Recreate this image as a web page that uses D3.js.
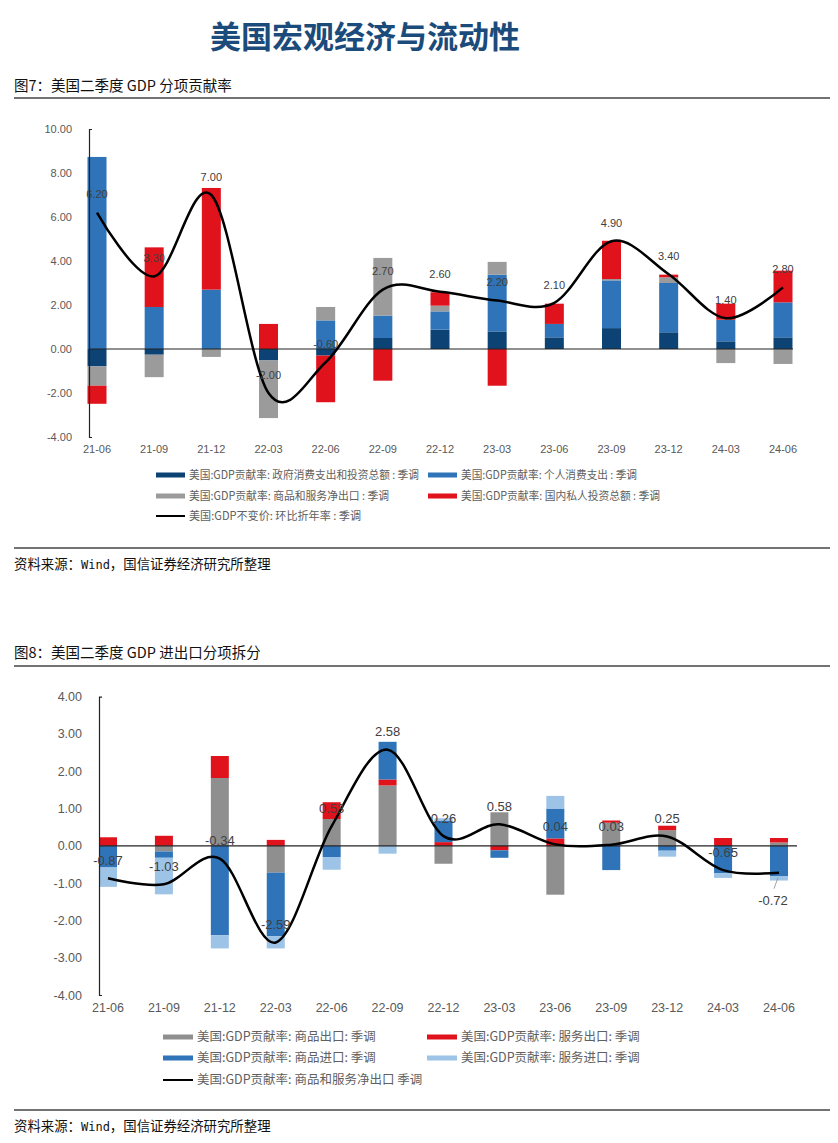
<!DOCTYPE html>
<html><head><meta charset="utf-8">
<script src="https://cdn.jsdelivr.net/npm/d3@7"></script>
<style>
body{margin:0;background:#fff}
svg{display:block}
text{font-family:"Liberation Sans","Noto Sans CJK SC",sans-serif}
.cjk{font-family:"Noto Sans CJK SC","Liberation Sans",sans-serif}
</style>
</head><body>
<svg id="c" width="838" height="1143"></svg>
<script>
// ---------- DATA ----------
const categories = ["21-06","21-09","21-12","22-03","22-06","22-09","22-12","23-03","23-06","23-09","23-12","24-03","24-06"];

// Chart 7: GDP contribution by component
const govSpending         = [-0.79,-0.26, 0.00,-0.52,-0.30, 0.50, 0.88, 0.80, 0.53, 0.95, 0.76, 0.35, 0.53];
const personalConsumption = [ 8.73, 1.91, 2.70, 0.00, 1.30, 1.02, 0.83, 2.58, 0.61, 2.17, 2.24, 0.98, 1.59];
const netExportsContrib   = [-0.88,-1.02,-0.36,-2.62, 0.61, 2.62, 0.26, 0.58, 0.00, 0.06, 0.26,-0.64,-0.68];
const privateInvestment   = [-0.82, 2.71, 4.62, 1.14,-2.12,-1.44, 0.61,-1.67, 0.92, 1.74, 0.12, 0.73, 1.44];
const gdpGrowth           = [ 6.20, 3.30, 7.00,-2.00,-0.60, 2.70, 2.60, 2.20, 2.10, 4.90, 3.40, 1.40, 2.80];
const ticks7 = [10,8,6,4,2,0,-2,-4];

// Chart 8: trade breakdown
const goodsExports    = [ 0.00,-0.15, 1.82,-0.72, 0.72, 1.62,-0.48, 0.90,-1.31, 0.62, 0.42, 0.00, 0.09];
const servicesExports = [ 0.23, 0.27, 0.59, 0.16, 0.45, 0.16, 0.10,-0.12, 0.20, 0.06, 0.12, 0.21, 0.12];
const goodsImports    = [-0.58,-0.17,-2.40,-1.70,-0.30, 1.01, 0.58,-0.20, 0.80,-0.65,-0.13,-0.73,-0.82];
const servicesImports = [-0.52,-0.98,-0.35,-0.33,-0.34,-0.21, 0.06, 0.00, 0.34, 0.00,-0.16,-0.13,-0.11];
const netExportsTotal = [-0.87,-1.03,-0.34,-2.59, 0.53, 2.58, 0.26, 0.58, 0.04, 0.03, 0.25,-0.65,-0.72];
const ticks8 = [4,3,2,1,0,-1,-2,-3,-4];

const svg = d3.select("#c");
svg.append("rect").attr("width",838).attr("height",1143).attr("fill","#fff");

// ---------- page header ----------
svg.append("text").attr("class","cjk").attr("x",365).attr("y",37).attr("dy","0.35em")
  .attr("text-anchor","middle").attr("font-size",31).attr("font-weight",700)
  .attr("fill","#1B4B7A").text("美国宏观经济与流动性");

function caption(y, lineY, txt){
  svg.append("text").attr("class","cjk").attr("x",14).attr("y",y).attr("dy","0.35em")
    .attr("font-size",14.5).attr("fill","#111").text(txt);
  svg.append("line").attr("x1",14).attr("x2",830).attr("y1",lineY).attr("y2",lineY)
    .attr("stroke","#444").attr("stroke-width",1.5);
}
function source(lineY, y){
  svg.append("line").attr("x1",14).attr("x2",830).attr("y1",lineY).attr("y2",lineY)
    .attr("stroke","#444").attr("stroke-width",1.5);
  const t = svg.append("text").attr("class","cjk").attr("x",14).attr("y",y).attr("dy","0.35em")
    .attr("font-size",13.4).attr("fill","#111");
  t.append("tspan").text("资料来源：");
  t.append("tspan").attr("font-family","DejaVu Sans Mono").attr("font-size",12).text("Wind");
  t.append("tspan").text("，国信证券经济研究所整理");
}
caption(86, 98, "图7：美国二季度 GDP 分项贡献率");
source(548, 564);
caption(653, 666, "图8：美国二季度 GDP 进出口分项拆分");
source(1110, 1126);

// ---------- generic chart ----------
function drawChart(cfg){
  const g = svg.append("g");
  const x = d3.scalePoint().domain(categories).range(cfg.xRange);
  const y = d3.scaleLinear().domain(cfg.yDomain).range(cfg.yRange);

  const rows = categories.map((c,i)=>{
    const o = {cat:c};
    cfg.series.forEach(s=>{ o[s.key] = s.values[i]; });
    return o;
  });
  const stacked = d3.stack().keys(cfg.series.map(s=>s.key)).offset(d3.stackOffsetDiverging)(rows);

  stacked.forEach((layer, li)=>{
    g.append("g").selectAll("rect").data(layer).join("rect")
      .attr("x", d=>x(d.data.cat)-cfg.barW/2)
      .attr("y", d=>y(Math.max(d[0],d[1])))
      .attr("width", cfg.barW)
      .attr("height", d=>Math.abs(y(d[0])-y(d[1])))
      .attr("fill", cfg.series[li].color);
  });

  // zero line
  g.append("line").attr("x1",cfg.axisX).attr("x2",cfg.zeroEnd)
    .attr("y1",y(0)).attr("y2",y(0)).attr("stroke","#222").attr("stroke-width",1.2);

  // y axis
  const ax = g.append("g").attr("transform",`translate(${cfg.axisX},0)`)
    .call(d3.axisLeft(y).tickValues(cfg.ticks).tickFormat(d=>d.toFixed(2))
      .tickSizeInner(0).tickSizeOuter(-3).tickPadding(cfg.tickPad));
  ax.select(".domain").attr("stroke","#222").attr("stroke-width",1.2);
  ax.selectAll("text").attr("font-size",cfg.yFont).attr("fill","#595959")
    .attr("font-family","Liberation Sans, sans-serif");

  // x labels
  g.append("g").selectAll("text").data(categories).join("text")
    .attr("x", d=>x(d)).attr("y", cfg.xLabelY).attr("dy","0.35em")
    .attr("text-anchor","middle").attr("font-size",cfg.xFont).attr("fill","#595959")
    .text(d=>d);

  // line
  const pts = categories.map((c,i)=>({cat:c, v:cfg.line.values[i]}));
  g.append("path").datum(pts)
    .attr("d", d3.line().x(d=>x(d.cat)).y(d=>y(d.v)).curve(d3.curveCardinal.tension(0)))
    .attr("fill","none").attr("stroke","#000").attr("stroke-width",2.5);

  // line labels
  g.append("g").selectAll("text").data(pts).join("text")
    .attr("x", (d,i)=>x(d.cat) + (cfg.labelDx ? cfg.labelDx(i) : 0))
    .attr("y", (d,i)=>y(d.v) + (cfg.labelDy ? cfg.labelDy(i) : -18))
    .attr("dy","0.35em").attr("text-anchor","middle")
    .attr("font-size",cfg.labelFont).attr("fill","#404040")
    .text(d=>d.v.toFixed(2));
  if (cfg.leader) cfg.leader(g, x, y, pts);

  // legend
  cfg.legend.forEach(it=>{
    if (it.type==="line"){
      g.append("line").attr("x1",it.x).attr("x2",it.x+it.w).attr("y1",it.y).attr("y2",it.y)
        .attr("stroke",it.color).attr("stroke-width",2);
    } else {
      g.append("rect").attr("x",it.x).attr("y",it.y-2.5).attr("width",it.w).attr("height",5)
        .attr("fill",it.color);
    }
    const t = g.append("text").attr("class","cjk").attr("x",it.x+it.w+4).attr("y",it.y).attr("dy","0.35em")
      .attr("font-size",cfg.legendFont).attr("fill","#606060").text(it.label);
    if (it.len) t.attr("textLength", it.len).attr("lengthAdjust","spacingAndGlyphs");
  });
}

// ---------- Chart 7 ----------
const c7 = {navy:"#0D4374", blue:"#2F74B8", gray:"#9B9B9B", red:"#E0121C"};
drawChart({
  xRange:[97,783], yDomain:[-4,10], yRange:[437,129],
  barW:19, axisX:89, zeroEnd:793, tickPad:17, ticks:ticks7,
  yFont:11, xFont:11, xLabelY:449, labelFont:11, legendFont:11.5,
  series:[
    {key:"gov", values:govSpending, color:c7.navy},
    {key:"pce", values:personalConsumption, color:c7.blue},
    {key:"nx",  values:netExportsContrib, color:c7.gray},
    {key:"inv", values:privateInvestment, color:c7.red}
  ],
  line:{values:gdpGrowth},
  legend:[
    {x:156,y:475,w:29,color:c7.navy,len:230,label:"美国:GDP贡献率: 政府消费支出和投资总额 : 季调"},
    {x:428,y:475,w:29,color:c7.blue,len:176,label:"美国:GDP贡献率: 个人消费支出 : 季调"},
    {x:156,y:496,w:29,color:c7.gray,len:200,label:"美国:GDP贡献率: 商品和服务净出口 : 季调"},
    {x:428,y:496,w:29,color:c7.red,len:199,label:"美国:GDP贡献率: 国内私人投资总额 : 季调"},
    {x:156,y:516,w:29,color:"#000",type:"line",len:172,label:"美国:GDP不变价: 环比折年率 : 季调"}
  ]
});

// ---------- Chart 8 ----------
const c8 = {gray:"#8F8F8F", red:"#E0121C", blue:"#2F74B8", light:"#9DC3E6"};
drawChart({
  xRange:[108,779], yDomain:[-4,4], yRange:[995,696.7],
  barW:18, axisX:99, zeroEnd:797, tickPad:17, ticks:ticks8,
  yFont:12.5, xFont:12.5, xLabelY:1008, labelFont:13, legendFont:12.5,
  series:[
    {key:"gx", values:goodsExports, color:c8.gray},
    {key:"sx", values:servicesExports, color:c8.red},
    {key:"gm", values:goodsImports, color:c8.blue},
    {key:"sm", values:servicesImports, color:c8.light}
  ],
  line:{values:netExportsTotal},
  labelDy: i => i===12 ? 28 : -18,
  labelDx: i => i===12 ? -6 : 0,
  leader: (g,x,y,pts)=>{
    const p = pts[12];
    g.append("line").attr("x1",x(p.cat)-1).attr("y1",y(p.v)+5)
      .attr("x2",x(p.cat)-5).attr("y2",y(p.v)+16)
      .attr("stroke","#8a8a8a").attr("stroke-width",0.8);
  },
  legend:[
    {x:163,y:1037,w:30,color:c8.gray,label:"美国:GDP贡献率: 商品出口: 季调"},
    {x:427,y:1037,w:30,color:c8.red,label:"美国:GDP贡献率: 服务出口: 季调"},
    {x:163,y:1058,w:30,color:c8.blue,label:"美国:GDP贡献率: 商品进口: 季调"},
    {x:427,y:1058,w:30,color:c8.light,label:"美国:GDP贡献率: 服务进口: 季调"},
    {x:163,y:1080,w:30,color:"#000",type:"line",label:"美国:GDP贡献率: 商品和服务净出口 季调"}
  ]
});
</script>
</body></html>
